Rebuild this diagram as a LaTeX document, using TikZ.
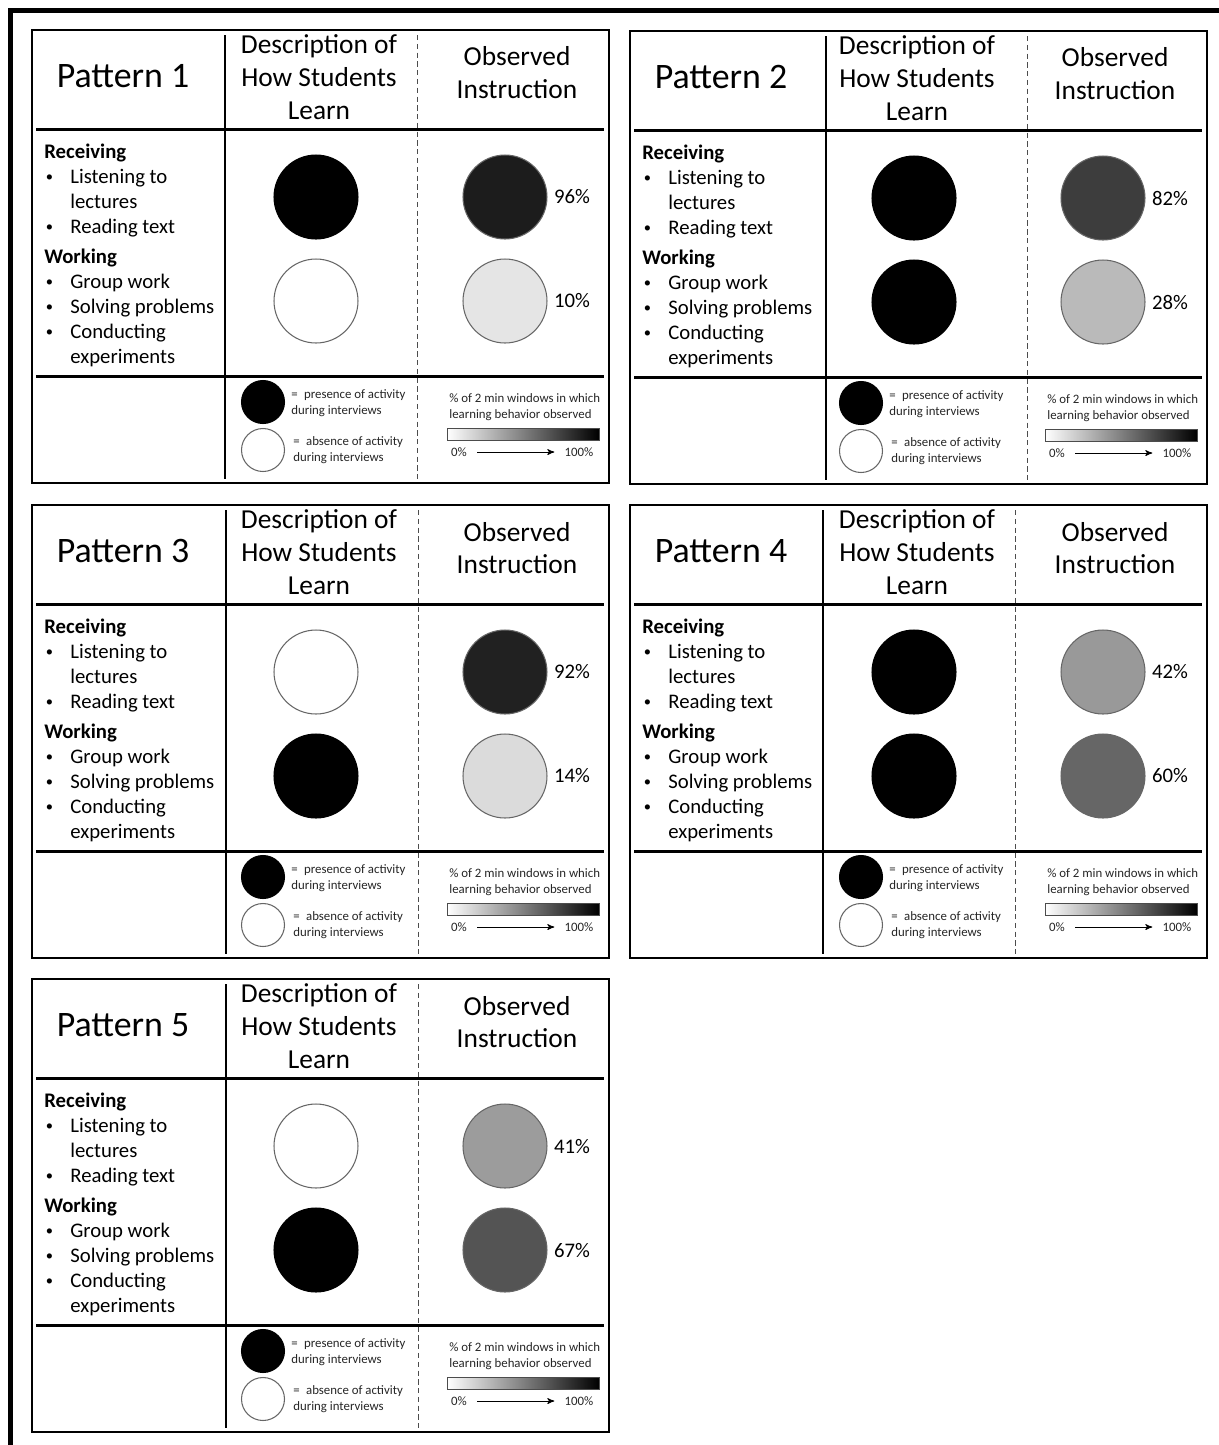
\documentclass[tikz,border=0pt]{standalone}
\usepackage{fontspec}
\usepackage{graphicx}
\setmainfont{Carlito}
\usetikzlibrary{arrows}
\tikzset{>=stealth'}
\colorlet{shade96}{black!89}
\colorlet{shade10}{black!10}
\colorlet{shade82}{black!76}
\colorlet{shade28}{black!27}
\colorlet{shade92}{black!87}
\colorlet{shade14}{black!14}
\colorlet{shade42}{black!40}
\colorlet{shade60}{black!60}
\colorlet{shade41}{black!39}
\colorlet{shade67}{black!67}
\tikzset{panelbox/.style={line width=1.1pt}}
\tikzset{hrule/.style={line width=1.7pt}}
\tikzset{coldiv/.style={line width=1.5pt}}
\tikzset{dashdiv/.style={black!70, line width=0.5pt, dash pattern=on 3pt off 2pt}}
\tikzset{heading/.style={font=\fontsize{20.4}{24}\selectfont}}
\tikzset{colhead/.style={align=center, inner sep=0pt, font=\fontsize{15.6}{18.7}\selectfont}}
\tikzset{itemlist/.style={anchor=north west, inner sep=0pt, font=\fontsize{11.8}{14.2}\selectfont}}
\tikzset{bigdot/.style={circle, minimum size=1.68cm, inner sep=0pt, line width=0.6pt}}
\tikzset{keydot/.style={circle, minimum size=0.86cm, inner sep=0pt, line width=0.6pt}}
\tikzset{present/.style={fill=black, draw=black}}
\tikzset{absent/.style={fill=white, draw=black!60}}
\tikzset{pct/.style={font=\fontsize{11.8}{14.2}\selectfont}}
\tikzset{keytext/.style={anchor=west, align=left, inner sep=0pt, text=black!85, font=\fontsize{7.3}{9}\selectfont}}
\tikzset{scalebar/.style={draw=black!70, line width=0.5pt, inner sep=0pt, minimum width=3.04cm, minimum height=0.24cm, left color=white, right color=black}}
\newcommand\smallbullet{\hspace*{0.03cm}\raisebox{0.1em}{\scalebox{0.7}{\textbullet}}}

\newcommand\drawpattern[9]{%
  \begin{scope}[shift={(#2,#3)}]
    \draw[panelbox] (0,0) rectangle (577,453);
    \draw[hrule] (4,99) -- (572,99);
    \draw[hrule] (4,346) -- (572,346);
    \draw[coldiv] (#4,5) -- (#4,449);
    \draw[dashdiv] (#5,5) -- (#5,449);

    \node[heading] (p#1-title) at (91,46) {Pattern #1};
    \node[colhead] (p#1-desc) at (287,47) {Description of\\How Students\\Learn};
    \node[colhead] (p#1-obs) at (485,43) {Observed\\Instruction};

    \node[itemlist] (p#1-list) at (12,111) {\begin{tabular}{@{}p{0.52cm}@{}l@{}}
      \multicolumn{2}{@{}l@{}}{\textbf{Receiving}}\\
      \smallbullet & Listening to\\
      & lectures\\
      \smallbullet & Reading text\\[0.1cm]
      \multicolumn{2}{@{}l@{}}{\textbf{Working}}\\
      \smallbullet & Group work\\
      \smallbullet & Solving problems\\
      \smallbullet & Conducting\\
      & experiments
    \end{tabular}};

    \node[bigdot, #6] (p#1-learnR) at (284,167) {};
    \node[bigdot, #7] (p#1-learnW) at (284,271) {};
    \node[bigdot, fill=shade#8, draw=black!60] (p#1-obsR) at (473,167) {};
    \node[bigdot, fill=shade#9, draw=black!60] (p#1-obsW) at (473,271) {};
    \node[pct] (p#1-pctR) at (540,167) {#8\%};
    \node[pct] (p#1-pctW) at (540,271) {#9\%};

    \node[keydot, present] (p#1-keyon) at (231,372) {};
    \node[keydot, absent] (p#1-keyoff) at (231,420) {};
    \node[keytext] (p#1-ontxt) at (259,373) {=\enspace presence of activity\\during interviews};
    \node[keytext] (p#1-offtxt) at (261,420) {=\enspace absence of activity\\during interviews};
    \node[keytext] (p#1-scaletxt) at (417,377) {\% of 2 min windows in which\\learning behavior observed};
    \node[scalebar] (p#1-bar) at (491,404) {};
    \node[keytext, anchor=center] (p#1-lo) at (427,422) {0\%};
    \node[keytext, anchor=center] (p#1-hi) at (547,422) {100\%};
    \draw[->, line width=0.5pt, shorten <=0.2cm, shorten >=0.2cm] (p#1-lo) -- (p#1-hi);
  \end{scope}}

\begin{document}
\begin{tikzpicture}[x=0.02cm, y=-0.02cm]
    \useasboundingbox (0,0) rectangle (1219,1445);
    \fill[white] (0,0) rectangle (1219,1445);
    \draw[line width=2.8pt] (10.5,1445) -- (10.5,10.5) -- (1219,10.5);

    \drawpattern{1}{32}{30}{193}{385}{present}{absent}{96}{10}
    \drawpattern{2}{630}{31}{196}{397}{present}{present}{82}{28}
    \drawpattern{3}{32}{505}{194}{386}{absent}{present}{92}{14}
    \drawpattern{4}{630}{505}{193}{385}{present}{present}{42}{60}
    \drawpattern{5}{32}{979}{194}{386}{absent}{present}{41}{67}
\end{tikzpicture}
\end{document}
